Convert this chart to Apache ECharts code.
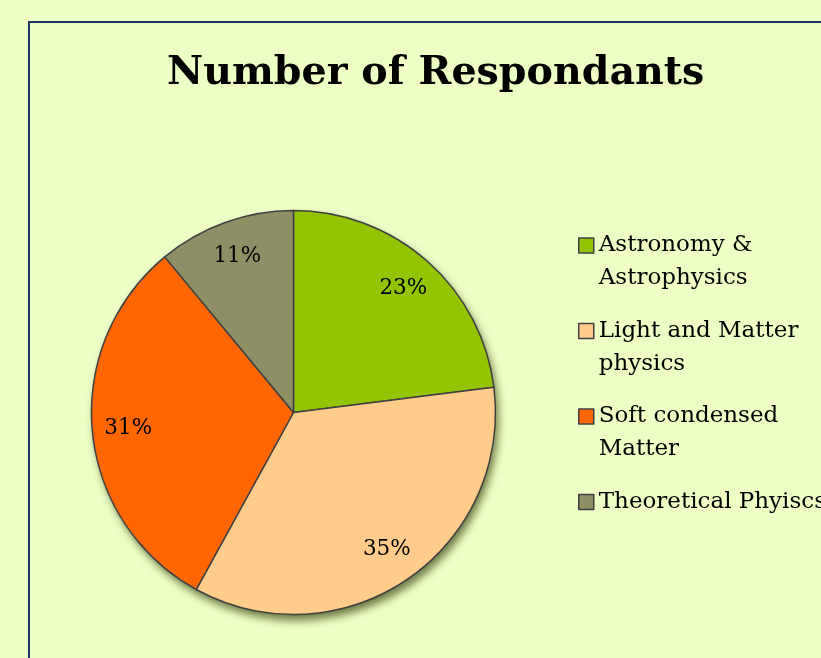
<!DOCTYPE html>
<html>
<head>
<meta charset="utf-8">
<script src="https://cdn.jsdelivr.net/npm/echarts@6/dist/echarts.min.js"></script>
<style>html,body{margin:0;padding:0;background:#EEFFC6;}#c{width:821px;height:658px;}</style>
</head>
<body>
<div id="c"></div>
<script>
const titleText = 'Number of Respondants';
const categories = ['Astronomy & Astrophysics', 'Light and Matter physics', 'Soft condensed Matter', 'Theoretical Phyiscs'];
const legendLabels = ['\nAstronomy &\nAstrophysics', '\nLight and Matter\nphysics', '\nSoft condensed\nMatter', '\nTheoretical Phyiscs\n'];
const percents = [23, 35, 31, 11];
const colors = ['#92C400', '#FFCC8C', '#FF6600', '#8F8F65'];

const FONT = 'DejaVu Serif';
const chart = echarts.init(document.getElementById('c'), null, {renderer: 'canvas'});
const center = [293.5, 412.5];
const R = 202;

const mainData = categories.map((n, i) => ({name: n, value: percents[i], itemStyle: {color: colors[i]}}));
const labelData = categories.map((n, i) => ({name: n, value: percents[i]}));

chart.setOption({
  backgroundColor: '#EEFFC6',
  animation: false,
  title: {
    text: titleText,
    left: 167,
    top: 54,
    padding: 0,
    textStyle: {fontFamily: FONT, fontWeight: 'bold', fontSize: 39.6, color: '#000'}
  },
  graphic: [{
    type: 'rect', z: 100, silent: true,
    shape: {x: 29, y: 22, width: 1000, height: 1000},
    style: {fill: 'none', stroke: '#1F3864', lineWidth: 2}
  }],
  legend: {
    orient: 'vertical',
    left: 578,
    top: 196,
    padding: 0,
    itemGap: -13.5,
    itemWidth: 15,
    itemHeight: 15,
    icon: 'rect',
    data: categories,
    formatter: function (name) { return legendLabels[categories.indexOf(name)]; },
    itemStyle: {borderColor: '#404040', borderWidth: 1.5},
    textStyle: {fontFamily: FONT, fontSize: 23, color: '#000', lineHeight: 33}
  },
  series: [
    {
      type: 'pie', name: 'shadow', silent: true, z: 1,
      center: center, radius: R,
      label: {show: false}, labelLine: {show: false},
      itemStyle: {color: '#8F8F65', shadowBlur: 9, shadowOffsetX: 3, shadowOffsetY: 6, shadowColor: 'rgba(40,50,0,0.65)'},
      data: [{name: '', value: 1}]
    },
    {
      type: 'pie', name: 'Respondants', z: 2,
      center: center, radius: R,
      startAngle: 90, clockwise: true,
      label: {show: false}, labelLine: {show: false},
      itemStyle: {borderColor: '#404040', borderWidth: 1.5},
      emphasis: {disabled: true},
      data: mainData
    },
    {
      type: 'pie', name: 'labels', z: 3, silent: true,
      center: center, radius: [124, R],
      startAngle: 90, clockwise: true,
      itemStyle: {color: 'rgba(0,0,0,0)', borderWidth: 0},
      labelLine: {show: false},
      label: {
        show: true, position: 'inside',
        formatter: '{c}%',
        fontFamily: FONT, fontSize: 21.5, color: '#000'
      },
      emphasis: {disabled: true},
      data: labelData
    }
  ]
});
</script>
</body>
</html>
